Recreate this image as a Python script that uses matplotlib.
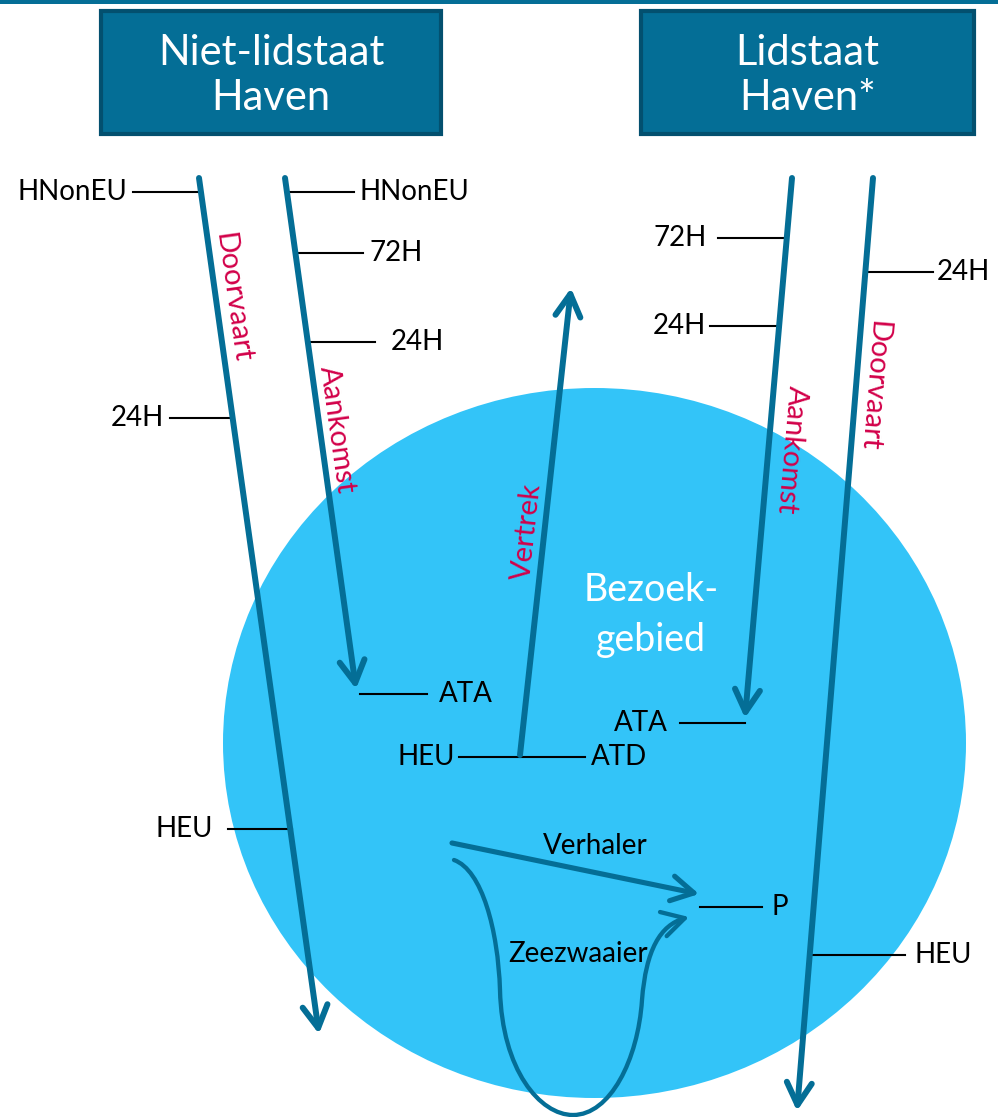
"""
Diagram of port call notifications (meldmomenten) around a visiting area.

Draws the two harbour boxes, the visiting area and the routes with the
moments at which a notification is due.
"""

import matplotlib
matplotlib.use('Agg')
import matplotlib.pyplot as plt
from matplotlib.patches import Rectangle, Ellipse, FancyArrowPatch
from matplotlib.path import Path

W, H = 998, 1117

DARK = '#046E96'
EDGE = '#03506F'
AREA = '#33C4F8'
RED = '#D20049'
FONT = 'Lato'

# harbours on top
PORT_LABELS = ['Niet-lidstaat\nHaven', 'Lidstaat\nHaven*']
PORT_BOXES = [(101, 11, 340, 123), (641, 11, 333, 123)]

# visiting area
AREA_LABEL = 'Bezoek-\ngebied'
AREA_CENTER = (594.5, 743)
AREA_SIZE = (743, 710)
AREA_LABEL_POS = (651, 615)

# main routes
ROUTE_LABELS = ['Doorvaart', 'Aankomst', 'Vertrek', 'Aankomst', 'Doorvaart']
ROUTE_START = [(199, 178), (285, 178), (520, 755), (792, 178), (873, 178)]
ROUTE_END = [(319, 1034), (356, 689), (571, 288), (745, 718), (797, 1111)]
ROUTE_LABEL_POS = [(232, 298), (337, 430), (527, 532), (791, 450), (873, 386)]

# moves inside the area
SHIFT_LABEL = 'Verhaler'
SHIFT_START = (452, 843)
SHIFT_END = (699, 894)
SHIFT_LABEL_POS = (595, 846)
SWING_LABEL = 'Zeezwaaier'
SWING_POINTS = [(454, 860), (482, 870), (498, 930), (500, 990),
                (502, 1070), (540, 1115), (573, 1115),
                (610, 1115), (638, 1060), (642, 1000),
                (646, 950), (660, 925), (689, 917)]
SWING_LABEL_POS = (578, 954)

# notification moments: label, tick line x0..x1 at y, text anchor
MARK_LABELS = ['HNonEU', 'HNonEU', '72H', '24H', '24H', 'ATA', 'HEU', 'ATD',
               'HEU', 'P', '72H', '24H', '24H', 'ATA', 'HEU']
MARK_X0 = [133, 288, 297, 309, 170, 360, 459, 520, 228, 700, 718, 710, 867, 680, 812]
MARK_X1 = [200, 354, 363, 375, 233, 427, 520, 585, 292, 762, 786, 778, 933, 745, 905]
MARK_Y = [192, 192, 253, 342, 418, 694, 757, 757, 829, 907, 238, 326, 272, 723, 955]
MARK_TEXT_X = [127, 360, 370, 391, 164, 439, 455, 591, 213, 772, 707, 706, 937, 668, 915]
MARK_SIDE = ['right', 'left', 'left', 'left', 'right', 'left', 'right', 'left',
             'right', 'left', 'right', 'right', 'left', 'right', 'left']

HEAD = '->,head_length=1.6,head_width=0.9'


def screen_angle(p0, p1):
    """Angle of p0->p1 on screen (y axis points down in data)."""
    import math
    return math.degrees(math.atan2(-(p1[1] - p0[1]), p1[0] - p0[0]))


def arrow(ax, p0=None, p1=None, path=None, lw=4.3):
    """Open-headed arrow in the diagram colour."""
    style = dict(arrowstyle=HEAD, mutation_scale=10, lw=lw, color=DARK,
                 capstyle='round', joinstyle='round', zorder=5)
    if path is not None:
        ax.add_patch(FancyArrowPatch(path=path, **style))
    else:
        ax.add_patch(FancyArrowPatch(p0, p1, shrinkA=0, shrinkB=0, **style))


def main():
    fig = plt.figure(figsize=(W / 100, H / 100), dpi=100)
    ax = fig.add_axes([0, 0, 1, 1])
    ax.set_xlim(0, W)
    ax.set_ylim(H, 0)
    ax.axis('off')

    # top rule
    ax.add_patch(Rectangle((0, 0), W, 4, color=DARK, lw=0))

    # harbour boxes
    for label, (x, y, w, h) in zip(PORT_LABELS, PORT_BOXES):
        ax.add_patch(Rectangle((x, y), w, h, facecolor=DARK, edgecolor=EDGE, lw=3))
        ax.text(x + w / 2, y + h / 2 + 3, label, color='white', ha='center', va='center',
                fontsize=30, family=FONT, linespacing=1.24)

    # visiting area
    ax.add_patch(Ellipse(AREA_CENTER, AREA_SIZE[0], AREA_SIZE[1], color=AREA, lw=0))
    ax.text(*AREA_LABEL_POS, AREA_LABEL, color='white', ha='center', va='center',
            fontsize=27, family=FONT, linespacing=1.45)

    # notification ticks
    for label, x0, x1, y, tx, side in zip(MARK_LABELS, MARK_X0, MARK_X1, MARK_Y,
                                          MARK_TEXT_X, MARK_SIDE):
        ax.plot([x0, x1], [y, y], color='black', lw=1.5, zorder=3)
        ax.text(tx, y, label, ha=side, va='center', fontsize=20, family=FONT, zorder=4)

    # main routes
    for label, p0, p1, pos in zip(ROUTE_LABELS, ROUTE_START, ROUTE_END, ROUTE_LABEL_POS):
        arrow(ax, p0, p1)
        ax.text(*pos, label, color=RED, ha='center', va='center', fontsize=21,
                family=FONT, rotation=screen_angle(p0, p1),
                rotation_mode='anchor', zorder=4)

    # verhaler
    arrow(ax, SHIFT_START, SHIFT_END, lw=3.7)
    ax.text(*SHIFT_LABEL_POS, SHIFT_LABEL, ha='center', va='center', fontsize=20,
            family=FONT, zorder=4)

    # zeezwaaier
    codes = [Path.MOVETO] + [Path.CURVE4] * (len(SWING_POINTS) - 1)
    arrow(ax, path=Path(SWING_POINTS, codes), lw=3.1)
    ax.text(*SWING_LABEL_POS, SWING_LABEL, ha='center', va='center', fontsize=20,
            family=FONT, zorder=4)

    fig.savefig('out.png', dpi=100)
    print('Plot saved to: out.png')


if __name__ == '__main__':
    main()
